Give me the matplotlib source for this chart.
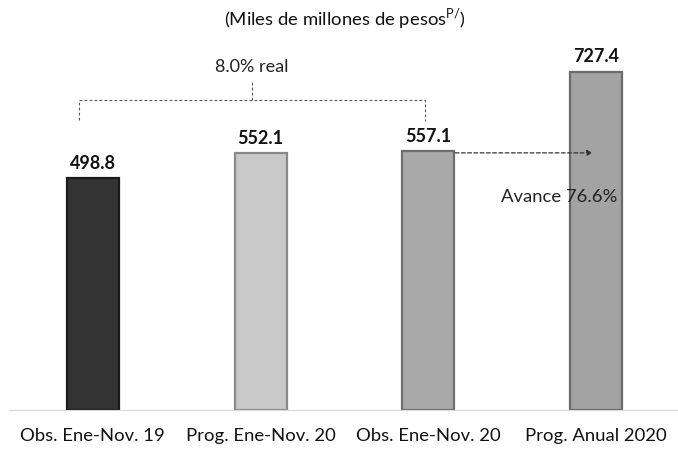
import matplotlib.pyplot as plt

# datos
categorias = ["Obs. Ene-Nov. 19", "Prog. Ene-Nov. 20", "Obs. Ene-Nov. 20", "Prog. Anual 2020"]
valores = [498.8, 552.1, 557.1, 727.4]
colores = ["#333333", "#c9c9c9", "#a9a9a9", "#a3a3a3"]
bordes = ["#1a1a1a", "#8a8a8a", "#6e6e6e", "#6a6a6a"]
crecimiento_real = "8.0% real"
avance = "Avance 76.6%"

plt.rcParams["font.family"] = ["Lato", "DejaVu Sans"]

fig = plt.figure(figsize=(6.78, 4.51), dpi=100)
ax = fig.add_axes([0.013, 0.091, 0.99, 0.909])

x = range(len(categorias))
ax.bar(x, valores, width=0.31, color=colores, edgecolor=bordes, linewidth=1.6, zorder=2)

for xi, v in zip(x, valores):
    ax.text(xi, v + 14, f"{v:.1f}", ha="center", va="bottom", fontsize=13,
            fontweight="bold", color="#111111")

ax.set_xlim(-0.5, 3.5)
ax.set_ylim(0, 882)

# llave punteada sobre las barras 1 a 3
yb = 667
ax.plot([-0.08, -0.08, 1.98, 1.98], [624, yb, yb, 622], ls=(0, (2.5, 2)), lw=0.8,
        color="#555555", zorder=3)
ax.plot([0.95, 0.95], [yb, 706], ls=(0, (2.5, 2)), lw=0.8, color="#555555", zorder=3)
ax.text(0.95, 738, crecimiento_real, ha="center", va="center", fontsize=13, color="#222222")

# flecha de avance
ax.annotate("", xy=(2.98, valores[2] - 4), xytext=(2.16, valores[2] - 4),
            arrowprops=dict(arrowstyle="-|>", ls=(0, (3, 2)), lw=0.9, color="#333333",
                            mutation_scale=8, shrinkA=0, shrinkB=0), zorder=4)
ax.text(2.78, 458, avance, ha="center", va="center", fontsize=13.3, color="#222222", zorder=5)

ax.set_xticks(list(x))
ax.set_xticklabels(categorias, fontsize=13.3, color="#111111")
ax.tick_params(axis="x", length=0, pad=13)
ax.set_yticks([])
for s in ["top", "right", "left"]:
    ax.spines[s].set_visible(False)
ax.spines["bottom"].set_color("#d9d9d9")

fig.text(0.508, 0.958, "(Miles de millones de pesos$^{\\mathregular{P/}}$)", ha="center",
         va="center", fontsize=13.3, color="#111111")

fig.savefig("out.png", dpi=100)
